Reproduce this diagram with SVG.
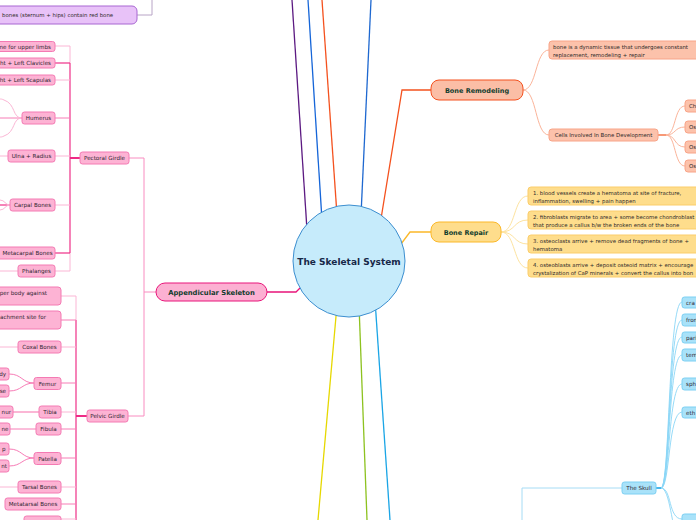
<svg xmlns="http://www.w3.org/2000/svg" width="696" height="520" viewBox="0 0 696 520">
<style>
text{font-family:"DejaVu Sans",Verdana,sans-serif;}
.s{font-size:5.6px;fill:#2f2530;}
.sm{font-size:5.4px;fill:#2f2a2a;}
.h{font-weight:bold;fill:#123d2e;}
.pn{fill:#fdb3d4;stroke:#f47ab3;stroke-width:1;}
.rn{fill:#fcc2ab;stroke:#f8a488;stroke-width:1;}
.yn{fill:#fedd8c;stroke:#fbcd6a;stroke-width:1;}
.bn{fill:#a9e2f9;stroke:#7cd0f3;stroke-width:1;}
.c{fill:none;}
.l1{stroke:#fbb6d5;stroke-width:1;}
.l2{stroke:#f77cb6;stroke-width:1;}
.l3{stroke:#ef2f88;stroke-width:1.2;}
.lr{stroke:#fbb49a;stroke-width:1;}
.ly{stroke:#fde3a0;stroke-width:1;}
.lb{stroke:#8ad6f6;stroke-width:0.9;}
</style>
<g id="connectors" class="c">
  <path d="M307,230 L292,0" stroke="#5c1a82" stroke-width="1.3"/>
  <path d="M322,220 L308,0" stroke="#1565d8" stroke-width="1.3"/>
  <path d="M337,215 L322,0" stroke="#f4511e" stroke-width="1.3"/>
  <path d="M361,215 L371,0" stroke="#1e68d0" stroke-width="1.3"/>
  <path d="M380,225 L402,90 L431,90" stroke="#f4511e" stroke-width="1.3"/>
  <path d="M398,248 L410,232 L431,232" stroke="#fbb829" stroke-width="1.3"/>
  <path d="M305,283 L296,292 L267,292" stroke="#e8157a" stroke-width="1.3"/>
  <path d="M337,305 L318,520" stroke="#e6d800" stroke-width="1.3"/>
  <path d="M359,305 L367,520" stroke="#8dc21f" stroke-width="1.3"/>
  <path d="M375,300 L390,520" stroke="#1aa5e6" stroke-width="1.3"/>
  <path d="M137,15 H152 V0" stroke="#b8a4c6" stroke-width="1"/>
  <path d="M156,292 H144 V158 H129 M144,292 V416 H128" stroke="#f98cc0" stroke-width="1"/>
  <path d="M70,46 V63 M70,253 V271" class="l1"/>
  <path d="M70,63 V253" class="l3"/>
  <path d="M70,158 H80" stroke="#ee2a86" stroke-width="2"/>
  <path d="M55,46 H70" class="l1"/>
  <path d="M55,63 H70" class="l3"/>
  <path d="M55,80 H70" class="l1"/>
  <path d="M55,118 H70" class="l2"/>
  <path d="M55,156 H70" class="l1"/>
  <path d="M55,205 H70" class="l1"/>
  <path d="M55,253 H70" class="l3"/>
  <path d="M55,271 H70" class="l1"/>
  <path d="M0,118 H22" class="l2"/>
  <path d="M22,118 C12,118 16,104 4,100 C2,99 1,99 0,99" class="l1"/>
  <path d="M22,118 C12,118 16,132 4,136 C2,137 1,137 0,137" class="l1"/>
  <path d="M0,156 H8" class="l1"/>
  <path d="M0,205 H10" class="l3"/>
  <path d="M10,205 C5,205 5,200 0,200 M10,205 C5,205 5,210 0,210" class="l1"/>
  <path d="M0,271 H18" class="l1"/>
  <path d="M76,296 V320" class="l1"/>
  <path d="M76,320 V520" class="l3"/>
  <path d="M76,416 H87" stroke="#ee2a86" stroke-width="2"/>
  <path d="M61,296 H76" class="l1"/>
  <path d="M61,320 H76" class="l2"/>
  <path d="M61,347 H76" class="l1"/>
  <path d="M0,347 H18" class="l1"/>
  <path d="M61,383 H76" class="l2"/>
  <path d="M34,383 C22,383 22,374 9,374 M34,383 C22,383 22,391 9,391" class="l2"/>
  <path d="M61,412 H76" class="l1"/>
  <path d="M13,412 H39" stroke="#fbb6d5" stroke-width="2"/>
  <path d="M61,429 H76" class="l2"/>
  <path d="M10,429 H36" class="l2"/>
  <path d="M61,458 H76" class="l2"/>
  <path d="M34,458 C22,458 22,449 9,449 M34,458 C22,458 22,466 9,466" class="l2"/>
  <path d="M61,487 H76" class="l1"/>
  <path d="M0,487 H18" class="l1"/>
  <path d="M61,504 H76" class="l2"/>
  <path d="M61,519 H76" class="l1"/>
  <path d="M523,90 C537,90 535,50 549,50" class="lr"/>
  <path d="M523,90 C537,90 535,135 549,135" class="lr"/>
  <path d="M658,135 H666" stroke="#f78e68" stroke-width="1.8"/>
  <path d="M666,135 C676,135 674,106 685,106 M666,135 C676,135 674,127 685,127 M666,135 C676,135 674,147 685,147 M666,135 C676,135 674,166 685,166" class="lr"/>
  <path d="M501,232 C516,232 513,196 528,196 M501,232 C516,232 513,220 528,220 M501,232 C516,232 513,244 528,244 M501,232 C516,232 513,268 528,268" class="ly"/>
  <path d="M622,488 H522 V520" stroke="#a6dcf5" stroke-width="1"/>
  <path d="M656,488 H661" stroke="#1aa5e6" stroke-width="1.6"/>
  <path d="M661,488 C670,488 668,302 682,302 M661,488 C670,488 668,320 682,320 M661,488 C670,488 668,337 682,337 M661,488 C670,488 668,355 682,355 M661,488 C670,488 668,384 682,384 M661,488 C670,488 668,412 682,412 M661,488 C672,488 668,519 682,519 M661,488 C670,488 672,530 678,540" class="lb"/>
</g>
<g id="center">
  <circle cx="349" cy="261" r="56" fill="#c6ebfb" stroke="#3d8fd0" stroke-width="1"/>
  <text x="349" y="264.5" text-anchor="middle" font-size="9" font-weight="bold" fill="#172848">The Skeletal System</text>
</g>
<g id="red-bone">
  <rect x="-20" y="6" width="157" height="18" rx="5" fill="#e8c2f8" stroke="#a866d2" stroke-width="1"/>
  <text class="sm" x="2" y="17">bones (sternum + hips)  contain red bone</text>
</g>
<g id="bone-remodeling">
  <rect x="431" y="80" width="92" height="20" rx="8" fill="#fbbea6" stroke="#f4511e" stroke-width="1"/>
  <text class="h" x="477" y="92.5" text-anchor="middle" font-size="6.5">Bone Remodeling</text>
</g>
<g id="remodel-def">
  <rect class="rn" x="549" y="41" width="160" height="18" rx="3"/>
  <text class="sm" x="553" y="49">bone is a dynamic tissue that undergoes constant</text>
  <text class="sm" x="553" y="56.5">replacement, remodeling + repair</text>
</g>
<g id="cells">
  <rect class="rn" x="549" y="129" width="109" height="12" rx="3"/>
  <text class="sm" x="603.5" y="137" text-anchor="middle">Cells Involved In Bone Development</text>
</g>
<g id="cell1"><rect class="rn" x="685" y="100" width="30" height="12" rx="3"/><text class="sm" x="689" y="108">Ch</text></g>
<g id="cell2"><rect class="rn" x="685" y="121" width="30" height="12" rx="3"/><text class="sm" x="689" y="129">Os</text></g>
<g id="cell3"><rect class="rn" x="685" y="141" width="30" height="12" rx="3"/><text class="sm" x="689" y="149">Os</text></g>
<g id="cell4"><rect class="rn" x="685" y="160" width="30" height="12" rx="3"/><text class="sm" x="689" y="168">Os</text></g>
<g id="bone-repair">
  <rect x="431" y="222" width="70" height="20" rx="8" fill="#fedd8c" stroke="#fbb829" stroke-width="1"/>
  <text class="h" x="466" y="234.5" text-anchor="middle" font-size="6.5">Bone Repair</text>
</g>
<g id="repair1"><rect class="yn" x="528" y="187" width="180" height="18" rx="3"/><text class="sm" x="533" y="195">1. blood vessels create a hematoma at site of fracture,</text><text class="sm" x="533" y="202.5">inflammation, swelling + pain happen</text></g>
<g id="repair2"><rect class="yn" x="528" y="211" width="180" height="18" rx="3"/><text class="sm" x="533" y="219">2. fibroblasts migrate to area + some become chondroblast</text><text class="sm" x="533" y="226.5">that produce a callus b/w the broken ends of the bone</text></g>
<g id="repair3"><rect class="yn" x="528" y="235" width="180" height="18" rx="3"/><text class="sm" x="533" y="243">3. osteoclasts arrive + remove dead fragments of bone +</text><text class="sm" x="533" y="250.5">hematoma</text></g>
<g id="repair4"><rect class="yn" x="528" y="259" width="180" height="18" rx="3"/><text class="sm" x="533" y="267">4. osteoblasts arrive + deposit osteoid matrix + encourage</text><text class="sm" x="533" y="274.5">crystalization of CaP minerals + convert the callus into bon</text></g>
<g id="skull"><rect class="bn" x="622" y="482" width="34" height="12" rx="2.5"/><text class="s" x="639" y="490" text-anchor="middle">The Skull</text></g>
<g id="sk1"><rect class="bn" x="682" y="297" width="30" height="11" rx="2.5"/><text class="s" x="686" y="304.5">cra</text></g>
<g id="sk2"><rect class="bn" x="682" y="314" width="30" height="12" rx="2.5"/><text class="s" x="686" y="322">fron</text></g>
<g id="sk3"><rect class="bn" x="682" y="332" width="30" height="11" rx="2.5"/><text class="s" x="686" y="339.5">pari</text></g>
<g id="sk4"><rect class="bn" x="682" y="349" width="30" height="12" rx="2.5"/><text class="s" x="686" y="357">tem</text></g>
<g id="sk5"><rect class="bn" x="682" y="378" width="30" height="12" rx="2.5"/><text class="s" x="686" y="386">sph</text></g>
<g id="sk6"><rect class="bn" x="682" y="407" width="30" height="11" rx="2.5"/><text class="s" x="686" y="414.5">eth</text></g>
<g id="sk7"><rect class="bn" x="682" y="514" width="30" height="12" rx="2.5"/></g>
<g id="appendicular">
  <rect x="156" y="283" width="111" height="18" rx="9" fill="#fcb0d2" stroke="#e8157a" stroke-width="1"/>
  <text class="h" x="211.5" y="294.5" text-anchor="middle" font-size="6.8">Appendicular Skeleton</text>
</g>
<g id="pectoral"><rect class="pn" x="80" y="152" width="49" height="12" rx="2.5"/><text class="s" x="104.5" y="160" text-anchor="middle">Pectoral Girdle</text></g>
<g id="pelvic"><rect class="pn" x="87" y="410" width="41" height="12" rx="2.5"/><text class="s" x="107.5" y="418" text-anchor="middle">Pelvic Girdle</text></g>
<g id="upper-limbs"><rect class="pn" x="-40" y="41.5" width="95" height="10" rx="2.5"/><text class="s" x="51" y="48.5" text-anchor="end">ne for upper limbs</text></g>
<g id="clavicles"><rect class="pn" x="-40" y="58" width="95" height="10" rx="2.5"/><text class="s" x="51" y="65" text-anchor="end">ht + Left Clavicles</text></g>
<g id="scapulas"><rect class="pn" x="-40" y="75" width="95" height="10" rx="2.5"/><text class="s" x="51" y="82" text-anchor="end">ht + Left Scapulas</text></g>
<g id="humerus"><rect class="pn" x="22" y="112" width="33" height="12" rx="2.5"/><text class="s" x="38.5" y="120" text-anchor="middle">Humerus</text></g>
<g id="ulna"><rect class="pn" x="8" y="150" width="47" height="12" rx="2.5"/><text class="s" x="31.5" y="158" text-anchor="middle">Ulna + Radius</text></g>
<g id="carpal"><rect class="pn" x="10" y="199" width="45" height="12" rx="2.5"/><text class="s" x="32.5" y="207" text-anchor="middle">Carpal Bones</text></g>
<g id="metacarpal"><rect class="pn" x="-5" y="247" width="60" height="12" rx="2.5"/><text class="s" x="27.5" y="255" text-anchor="middle">Metacarpal Bones</text></g>
<g id="phalanges"><rect class="pn" x="18" y="265" width="37" height="12" rx="2.5"/><text class="s" x="36.5" y="273" text-anchor="middle">Phalanges</text></g>
<g id="support"><rect class="pn" x="-60" y="287" width="121" height="18" rx="3"/><text class="s" x="47" y="295" text-anchor="end">per body against</text></g>
<g id="attach"><rect class="pn" x="-60" y="311" width="121" height="18" rx="3"/><text class="s" x="46" y="319" text-anchor="end">achment site for</text></g>
<g id="coxal"><rect class="pn" x="18" y="341" width="43" height="12" rx="2.5"/><text class="s" x="39.5" y="349" text-anchor="middle">Coxal Bones</text></g>
<g id="femur"><rect class="pn" x="34" y="377.5" width="27" height="12" rx="2.5"/><text class="s" x="47.5" y="385.5" text-anchor="middle">Femur</text></g>
<g id="femur-a"><rect class="pn" x="-20" y="368" width="29" height="12" rx="2.5"/><text class="s" x="6" y="376" text-anchor="end">dy</text></g>
<g id="femur-b"><rect class="pn" x="-20" y="385" width="29" height="12" rx="2.5"/><text class="s" x="6" y="393" text-anchor="end">se</text></g>
<g id="tibia"><rect class="pn" x="39" y="406" width="22" height="12" rx="2.5"/><text class="s" x="50" y="414" text-anchor="middle">Tibia</text></g>
<g id="tibia-a"><rect class="pn" x="-20" y="406" width="33" height="12" rx="2.5"/><text class="s" x="11" y="414" text-anchor="end">nur</text></g>
<g id="fibula"><rect class="pn" x="36" y="423" width="25" height="12" rx="2.5"/><text class="s" x="48.5" y="431" text-anchor="middle">Fibula</text></g>
<g id="fibula-a"><rect class="pn" x="-20" y="423" width="30" height="12" rx="2.5"/><text class="s" x="8.5" y="431" text-anchor="end">ne</text></g>
<g id="patella"><rect class="pn" x="34" y="452.5" width="27" height="12" rx="2.5"/><text class="s" x="47.5" y="460.5" text-anchor="middle">Patella</text></g>
<g id="patella-a"><rect class="pn" x="-20" y="443" width="29" height="12" rx="2.5"/><text class="s" x="5.5" y="451" text-anchor="end">p</text></g>
<g id="patella-b"><rect class="pn" x="-20" y="460" width="29" height="12" rx="2.5"/><text class="s" x="7" y="468" text-anchor="end">nt</text></g>
<g id="tarsal"><rect class="pn" x="18" y="481" width="43" height="12" rx="2.5"/><text class="s" x="39.5" y="489" text-anchor="middle">Tarsal Bones</text></g>
<g id="metatarsal"><rect class="pn" x="5" y="498" width="56" height="12" rx="2.5"/><text class="s" x="33" y="506" text-anchor="middle">Metatarsal Bones</text></g>
<g id="pelvic-last"><rect class="pn" x="24" y="516" width="37" height="12" rx="2.5"/></g>
</svg>
